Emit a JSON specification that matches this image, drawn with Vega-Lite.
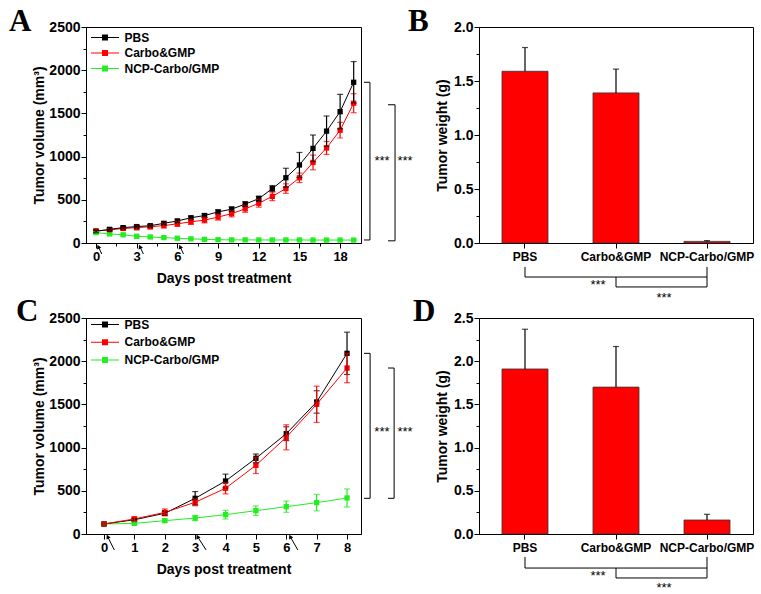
{
"$schema": "https://vega.github.io/schema/vega-lite/v6.json",
"background": "white",
"padding": {"left": 8, "top": 5, "right": 2, "bottom": 2},
"columns": 2,
"spacing": {"row": 75, "column": 118},
"bounds": "flush",
"resolve": {"scale": {"color": "independent"}, "legend": {"color": "independent"}},
"config": {
  "font": "Liberation Sans",
  "view": {"stroke": "black", "strokeWidth": 1},
  "axis": {"grid": false, "domainColor": "black", "tickColor": "black", "domainWidth": 1, "tickWidth": 1, "labelColor": "black", "titleColor": "black", "labelFont": "Liberation Sans", "titleFont": "Liberation Sans", "labelFontWeight": "bold", "titleFontWeight": "bold", "labelFontSize": 13, "titleFontSize": 14, "tickSize": 5, "labelPadding": 2, "labelOverlap": false},
  "title": {"anchor": "start", "frame": "group", "font": "Liberation Serif", "fontSize": 31, "fontWeight": "bold", "color": "black", "baseline": "alphabetic", "offset": -18}
},
"datasets": {
  "tvA": [
    {"day":0,"group":"NCP-Carbo/GMP","mean":120,"lo":110,"hi":130},
    {"day":1,"group":"NCP-Carbo/GMP","mean":105,"lo":95,"hi":115},
    {"day":2,"group":"NCP-Carbo/GMP","mean":95,"lo":87,"hi":103},
    {"day":3,"group":"NCP-Carbo/GMP","mean":78,"lo":70,"hi":86},
    {"day":4,"group":"NCP-Carbo/GMP","mean":70,"lo":64,"hi":76},
    {"day":5,"group":"NCP-Carbo/GMP","mean":62,"lo":56,"hi":68},
    {"day":6,"group":"NCP-Carbo/GMP","mean":55,"lo":50,"hi":60},
    {"day":7,"group":"NCP-Carbo/GMP","mean":48,"lo":43,"hi":53},
    {"day":8,"group":"NCP-Carbo/GMP","mean":42,"lo":37,"hi":47},
    {"day":9,"group":"NCP-Carbo/GMP","mean":38,"lo":33,"hi":43},
    {"day":10,"group":"NCP-Carbo/GMP","mean":36,"lo":31,"hi":41},
    {"day":11,"group":"NCP-Carbo/GMP","mean":36,"lo":31,"hi":41},
    {"day":12,"group":"NCP-Carbo/GMP","mean":35,"lo":30,"hi":40},
    {"day":13,"group":"NCP-Carbo/GMP","mean":35,"lo":30,"hi":40},
    {"day":14,"group":"NCP-Carbo/GMP","mean":35,"lo":30,"hi":40},
    {"day":15,"group":"NCP-Carbo/GMP","mean":35,"lo":30,"hi":40},
    {"day":16,"group":"NCP-Carbo/GMP","mean":34,"lo":29,"hi":39},
    {"day":17,"group":"NCP-Carbo/GMP","mean":34,"lo":29,"hi":39},
    {"day":18,"group":"NCP-Carbo/GMP","mean":34,"lo":29,"hi":39},
    {"day":19,"group":"NCP-Carbo/GMP","mean":34,"lo":29,"hi":39},
    {"day":0,"group":"Carbo&GMP","mean":140,"lo":125,"hi":155},
    {"day":1,"group":"Carbo&GMP","mean":152,"lo":137,"hi":167},
    {"day":2,"group":"Carbo&GMP","mean":168,"lo":148,"hi":188},
    {"day":3,"group":"Carbo&GMP","mean":178,"lo":153,"hi":203},
    {"day":4,"group":"Carbo&GMP","mean":188,"lo":163,"hi":213},
    {"day":5,"group":"Carbo&GMP","mean":202,"lo":174,"hi":230},
    {"day":6,"group":"Carbo&GMP","mean":222,"lo":192,"hi":252},
    {"day":7,"group":"Carbo&GMP","mean":245,"lo":215,"hi":275},
    {"day":8,"group":"Carbo&GMP","mean":265,"lo":233,"hi":297},
    {"day":9,"group":"Carbo&GMP","mean":300,"lo":265,"hi":335},
    {"day":10,"group":"Carbo&GMP","mean":340,"lo":302,"hi":378},
    {"day":11,"group":"Carbo&GMP","mean":395,"lo":355,"hi":435},
    {"day":12,"group":"Carbo&GMP","mean":460,"lo":415,"hi":505},
    {"day":13,"group":"Carbo&GMP","mean":540,"lo":490,"hi":590},
    {"day":14,"group":"Carbo&GMP","mean":630,"lo":575,"hi":685},
    {"day":15,"group":"Carbo&GMP","mean":755,"lo":700,"hi":810},
    {"day":16,"group":"Carbo&GMP","mean":932,"lo":847,"hi":1017},
    {"day":17,"group":"Carbo&GMP","mean":1100,"lo":1025,"hi":1175},
    {"day":18,"group":"Carbo&GMP","mean":1305,"lo":1215,"hi":1395},
    {"day":19,"group":"Carbo&GMP","mean":1618,"lo":1508,"hi":1728},
    {"day":0,"group":"PBS","mean":135,"lo":120,"hi":150},
    {"day":1,"group":"PBS","mean":158,"lo":143,"hi":173},
    {"day":2,"group":"PBS","mean":178,"lo":163,"hi":193},
    {"day":3,"group":"PBS","mean":190,"lo":175,"hi":205},
    {"day":4,"group":"PBS","mean":200,"lo":185,"hi":215},
    {"day":5,"group":"PBS","mean":228,"lo":210,"hi":246},
    {"day":6,"group":"PBS","mean":255,"lo":235,"hi":275},
    {"day":7,"group":"PBS","mean":292,"lo":274,"hi":310},
    {"day":8,"group":"PBS","mean":318,"lo":298,"hi":338},
    {"day":9,"group":"PBS","mean":360,"lo":338,"hi":382},
    {"day":10,"group":"PBS","mean":392,"lo":367,"hi":417},
    {"day":11,"group":"PBS","mean":450,"lo":422,"hi":478},
    {"day":12,"group":"PBS","mean":513,"lo":483,"hi":543},
    {"day":13,"group":"PBS","mean":630,"lo":595,"hi":665},
    {"day":14,"group":"PBS","mean":755,"lo":645,"hi":865},
    {"day":15,"group":"PBS","mean":903,"lo":758,"hi":1048},
    {"day":16,"group":"PBS","mean":1095,"lo":940,"hi":1250},
    {"day":17,"group":"PBS","mean":1295,"lo":1120,"hi":1470},
    {"day":18,"group":"PBS","mean":1520,"lo":1320,"hi":1720},
    {"day":19,"group":"PBS","mean":1860,"lo":1620,"hi":2100}
  ],
  "tvC": [
    {"day":0,"group":"NCP-Carbo/GMP","mean":116,"lo":106,"hi":126},
    {"day":1,"group":"NCP-Carbo/GMP","mean":123,"lo":108,"hi":138},
    {"day":2,"group":"NCP-Carbo/GMP","mean":154,"lo":134,"hi":174},
    {"day":3,"group":"NCP-Carbo/GMP","mean":185,"lo":155,"hi":215},
    {"day":4,"group":"NCP-Carbo/GMP","mean":224,"lo":174,"hi":274},
    {"day":5,"group":"NCP-Carbo/GMP","mean":270,"lo":215,"hi":325},
    {"day":6,"group":"NCP-Carbo/GMP","mean":316,"lo":251,"hi":381},
    {"day":7,"group":"NCP-Carbo/GMP","mean":363,"lo":268,"hi":458},
    {"day":8,"group":"NCP-Carbo/GMP","mean":417,"lo":312,"hi":522},
    {"day":0,"group":"PBS","mean":116,"lo":106,"hi":126},
    {"day":1,"group":"PBS","mean":165,"lo":150,"hi":180},
    {"day":2,"group":"PBS","mean":240,"lo":215,"hi":265},
    {"day":3,"group":"PBS","mean":413,"lo":335,"hi":491},
    {"day":4,"group":"PBS","mean":613,"lo":533,"hi":693},
    {"day":5,"group":"PBS","mean":876,"lo":826,"hi":926},
    {"day":6,"group":"PBS","mean":1161,"lo":1081,"hi":1241},
    {"day":7,"group":"PBS","mean":1528,"lo":1398,"hi":1658},
    {"day":8,"group":"PBS","mean":2091,"lo":1846,"hi":2336},
    {"day":0,"group":"Carbo&GMP","mean":116,"lo":106,"hi":126},
    {"day":1,"group":"Carbo&GMP","mean":174,"lo":149,"hi":199},
    {"day":2,"group":"Carbo&GMP","mean":250,"lo":210,"hi":290},
    {"day":3,"group":"Carbo&GMP","mean":367,"lo":327,"hi":407},
    {"day":4,"group":"Carbo&GMP","mean":529,"lo":464,"hi":594},
    {"day":5,"group":"Carbo&GMP","mean":795,"lo":700,"hi":890},
    {"day":6,"group":"Carbo&GMP","mean":1119,"lo":974,"hi":1264},
    {"day":7,"group":"Carbo&GMP","mean":1501,"lo":1291,"hi":1711},
    {"day":8,"group":"Carbo&GMP","mean":1921,"lo":1751,"hi":2091}
  ],
  "brA": [
    {"x":19.76,"x2":20.2,"y":1860,"y2":1860},
    {"x":20.2,"x2":20.2,"y":1860,"y2":35},
    {"x":20.2,"x2":19.76,"y":35,"y2":35},
    {"x":21.53,"x2":22.05,"y":1600,"y2":1600},
    {"x":22.05,"x2":22.05,"y":1600,"y2":25},
    {"x":22.05,"x2":21.53,"y":25,"y2":25}
  ],
  "stA": [{"x":21.09,"y":897,"t":"***"},{"x":22.79,"y":897,"t":"***"}],
  "arA": [
    {"x":0.17,"y":-43,"x2":0.42,"y2":-127},
    {"x":3.24,"y":-43,"x2":3.49,"y2":-127},
    {"x":6.2,"y":-43,"x2":6.45,"y2":-127}
  ],
  "brC": [
    {"x":8.56,"x2":8.76,"y":2091,"y2":2091},
    {"x":8.76,"x2":8.76,"y":2091,"y2":413},
    {"x":8.76,"x2":8.56,"y":413,"y2":413},
    {"x":9.35,"x2":9.55,"y":1921,"y2":1921},
    {"x":9.55,"x2":9.55,"y":1921,"y2":413},
    {"x":9.55,"x2":9.35,"y":413,"y2":413}
  ],
  "stC": [{"x":9.15,"y":1140,"t":"***"},{"x":9.91,"y":1140,"t":"***"}],
  "arC": [
    {"x":0.12,"y":-31,"x2":0.34,"y2":-185},
    {"x":3.08,"y":-31,"x2":3.36,"y2":-185},
    {"x":6.13,"y":-31,"x2":6.38,"y2":-185}
  ],
  "wB": [
    {"group":"PBS","mean":1.59,"hi":1.81},
    {"group":"Carbo&GMP","mean":1.39,"hi":1.61},
    {"group":"NCP-Carbo/GMP","mean":0.015,"hi":0.022}
  ],
  "brB": [
    {"x":"PBS","x2":"PBS","y":-0.222,"y2":-0.315},
    {"x":"PBS","x2":"NCP-Carbo/GMP","y":-0.315,"y2":-0.315},
    {"x":"NCP-Carbo/GMP","x2":"NCP-Carbo/GMP","y":-0.222,"y2":-0.407},
    {"x":"Carbo&GMP","x2":"NCP-Carbo/GMP","y":-0.407,"y2":-0.407},
    {"x":"Carbo&GMP","x2":"Carbo&GMP","y":-0.315,"y2":-0.407}
  ],
  "stB1": [{"x":"Carbo&GMP","y":-0.43,"t":"***"}],
  "stB2": [{"x":"Carbo&GMP","y":-0.542,"t":"***"}],
  "wD": [
    {"group":"PBS","mean":1.91,"hi":2.37},
    {"group":"Carbo&GMP","mean":1.70,"hi":2.17},
    {"group":"NCP-Carbo/GMP","mean":0.162,"hi":0.228}
  ],
  "brD": [
    {"x":"PBS","x2":"PBS","y":-0.266,"y2":-0.394},
    {"x":"PBS","x2":"NCP-Carbo/GMP","y":-0.394,"y2":-0.394},
    {"x":"NCP-Carbo/GMP","x2":"NCP-Carbo/GMP","y":-0.266,"y2":-0.509},
    {"x":"Carbo&GMP","x2":"NCP-Carbo/GMP","y":-0.509,"y2":-0.509},
    {"x":"Carbo&GMP","x2":"Carbo&GMP","y":-0.394,"y2":-0.509}
  ],
  "stD1": [{"x":"Carbo&GMP","y":-0.538,"t":"***"}],
  "stD2": [{"x":"Carbo&GMP","y":-0.666,"t":"***"}]
},
"concat": [
  {
    "width": 275, "height": 216,
    "title": {"text": "A", "dx": -77},
    "layer": [
      {"data": {"name": "tvA"}, "mark": {"type": "point", "shape": "square", "filled": true, "size": 28, "opacity": 1},
       "encoding": {
         "x": {"field": "day", "type": "quantitative", "title": "Days post treatment", "scale": {"domain": [-0.74, 19.54], "nice": false, "zero": false},
               "axis": {"values": [0,1.5,3,4.5,6,7.5,9,10.5,12,13.5,15,16.5,18], "tickCount": 100, "format": "d", "labelOverlap": false, "labelExpr": "datum.value % 3 == 0 ? datum.label : ''", "tickSize": {"condition": {"test": "datum.value % 3 != 0", "value": 3}, "value": 5}, "labelPadding": 2, "titlePadding": 8}},
         "y": {"field": "mean", "type": "quantitative", "title": "Tumor volume (mm³)", "scale": {"domain": [0, 2500], "nice": false},
               "axis": {"values": [0,250,500,750,1000,1250,1500,1750,2000,2250,2500], "tickCount": 100, "format": "d", "labelOverlap": false, "labelExpr": "datum.value % 500 == 0 ? datum.label : ''", "tickSize": {"condition": {"test": "datum.value % 500 != 0", "value": 3}, "value": 5}, "labelFontSize": 14, "labelPadding": 1, "titlePadding": 2}},
         "color": {"field": "group", "type": "nominal", "scale": {"domain": ["PBS", "Carbo&GMP", "NCP-Carbo/GMP"], "range": ["#000000", "#ff0000", "#22ee22"]},
                   "legend": {"orient": "none", "legendX": 5, "legendY": 3, "title": null, "symbolType": "M-1.87,-0.067H1.87V0.067H-1.87Z M-0.4,-0.4H0.4V0.4H-0.4Z", "symbolSize": 225, "symbolOffset": 6.5, "symbolStrokeWidth": 0, "labelOffset": 12, "labelFontSize": 12, "labelFont": "Liberation Sans", "labelFontWeight": "bold", "labelColor": "black", "rowPadding": 1.5, "padding": 0}}
       }},
      {"data": {"name": "tvA"}, "mark": {"type": "line", "strokeWidth": 1},
       "encoding": {
         "x": {"field": "day", "type": "quantitative", "title": "Days post treatment"},
         "y": {"field": "mean", "type": "quantitative", "title": "Tumor volume (mm³)"},
         "color": {"field": "group", "type": "nominal"}
       }},
      {"data": {"name": "tvA"}, "mark": {"type": "errorbar", "ticks": {"size": 6, "thickness": 1.2}, "rule": {"strokeWidth": 1.2}},
       "encoding": {
         "x": {"field": "day", "type": "quantitative", "title": "Days post treatment"},
         "y": {"field": "lo", "type": "quantitative", "title": "Tumor volume (mm³)"},
         "y2": {"field": "hi"},
         "color": {"field": "group", "type": "nominal"}
       }},
      {"data": {"name": "brA"}, "mark": {"type": "rule", "color": "black", "strokeWidth": 1},
       "encoding": {"x": {"field": "x", "type": "quantitative", "title": "Days post treatment"}, "x2": {"field": "x2"}, "y": {"field": "y", "type": "quantitative", "title": "Tumor volume (mm³)"}, "y2": {"field": "y2"}}},
      {"data": {"name": "stA"}, "mark": {"type": "text", "fontSize": 13, "font": "Liberation Sans", "color": "black", "baseline": "alphabetic"},
       "encoding": {"x": {"field": "x", "type": "quantitative", "title": "Days post treatment"}, "y": {"field": "y", "type": "quantitative", "title": "Tumor volume (mm³)"}, "text": {"field": "t"}}},
      {"data": {"name": "arA"}, "mark": {"type": "rule", "color": "black", "strokeWidth": 1},
       "encoding": {"x": {"field": "x", "type": "quantitative", "title": "Days post treatment"}, "x2": {"field": "x2"}, "y": {"field": "y", "type": "quantitative", "title": "Tumor volume (mm³)"}, "y2": {"field": "y2"}}},
      {"data": {"name": "arA"}, "mark": {"type": "point", "shape": "triangle-up", "filled": true, "color": "black", "size": 22, "angle": -22, "opacity": 1},
       "encoding": {"x": {"field": "x", "type": "quantitative", "title": "Days post treatment"}, "y": {"field": "y", "type": "quantitative", "title": "Tumor volume (mm³)"}}}
    ]
  },
  {
    "width": 274, "height": 216,
    "title": {"text": "B", "dx": -71},
    "layer": [
      {"data": {"name": "wB"}, "mark": {"type": "bar", "color": "#ff0000", "stroke": "#333333", "strokeWidth": 0.8},
       "encoding": {
         "x": {"field": "group", "type": "nominal", "sort": null, "title": null, "scale": {"domain": ["PBS", "Carbo&GMP", "NCP-Carbo/GMP"], "paddingInner": 0.4945, "paddingOuter": 0.2527},
               "axis": {"labelAngle": 0, "labelFontSize": 12, "labelPadding": 3, "labelOverlap": false}},
         "y": {"field": "mean", "type": "quantitative", "title": "Tumor weight (g)", "scale": {"domain": [0, 2], "nice": false},
               "axis": {"values": [0,0.25,0.5,0.75,1,1.25,1.5,1.75,2], "tickCount": 100, "labelOverlap": false, "labelExpr": "datum.value % 0.5 == 0 ? format(datum.value, '.1f') : ''", "tickSize": {"condition": {"test": "datum.value % 0.5 != 0", "value": 3}, "value": 5}, "labelFontSize": 14, "labelPadding": 1, "titlePadding": 4}}
       }},
      {"data": {"name": "wB"}, "mark": {"type": "rule", "color": "black", "strokeWidth": 1.2},
       "encoding": {"x": {"field": "group", "type": "nominal", "sort": null, "title": null}, "y": {"field": "mean", "type": "quantitative", "title": "Tumor weight (g)"}, "y2": {"field": "hi"}}},
      {"data": {"name": "wB"}, "mark": {"type": "tick", "color": "black", "thickness": 1.2, "size": 6, "orient": "horizontal"},
       "encoding": {"x": {"field": "group", "type": "nominal", "sort": null, "title": null}, "y": {"field": "hi", "type": "quantitative", "title": "Tumor weight (g)"}}},
      {"data": {"name": "brB"}, "mark": {"type": "rule", "color": "black", "strokeWidth": 1},
       "encoding": {"x": {"field": "x", "type": "nominal", "title": null}, "x2": {"field": "x2"}, "y": {"field": "y", "type": "quantitative", "title": "Tumor weight (g)"}, "y2": {"field": "y2"}}},
      {"data": {"name": "stB1"}, "mark": {"type": "text", "fontSize": 13, "color": "black", "baseline": "alphabetic", "dx": -18},
       "encoding": {"x": {"field": "x", "type": "nominal", "title": null}, "y": {"field": "y", "type": "quantitative", "title": "Tumor weight (g)"}, "text": {"field": "t"}}},
      {"data": {"name": "stB2"}, "mark": {"type": "text", "fontSize": 13, "color": "black", "baseline": "alphabetic", "dx": 48},
       "encoding": {"x": {"field": "x", "type": "nominal", "title": null}, "y": {"field": "y", "type": "quantitative", "title": "Tumor weight (g)"}, "text": {"field": "t"}}}
    ]
  },
  {
    "width": 275, "height": 216,
    "title": {"text": "C", "dx": -70, "offset": -17},
    "layer": [
      {"data": {"name": "tvC"}, "mark": {"type": "point", "shape": "square", "filled": true, "size": 28, "opacity": 1},
       "encoding": {
         "x": {"field": "day", "type": "quantitative", "title": "Days post treatment", "scale": {"domain": [-0.593, 8.46], "nice": false, "zero": false},
               "axis": {"values": [0,1,2,3,4,5,6,7,8], "tickCount": 100, "format": "d", "labelOverlap": false, "labelPadding": 2, "titlePadding": 8}},
         "y": {"field": "mean", "type": "quantitative", "title": "Tumor volume (mm³)", "scale": {"domain": [0, 2500], "nice": false},
               "axis": {"values": [0,250,500,750,1000,1250,1500,1750,2000,2250,2500], "tickCount": 100, "format": "d", "labelOverlap": false, "labelExpr": "datum.value % 500 == 0 ? datum.label : ''", "tickSize": {"condition": {"test": "datum.value % 500 != 0", "value": 3}, "value": 5}, "labelFontSize": 14, "labelPadding": 1, "titlePadding": 2}},
         "color": {"field": "group", "type": "nominal", "scale": {"domain": ["PBS", "Carbo&GMP", "NCP-Carbo/GMP"], "range": ["#000000", "#ff0000", "#22ee22"]},
                   "legend": {"orient": "none", "legendX": 5, "legendY": -1, "title": null, "symbolType": "M-1.87,-0.067H1.87V0.067H-1.87Z M-0.4,-0.4H0.4V0.4H-0.4Z", "symbolSize": 225, "symbolOffset": 6.5, "symbolStrokeWidth": 0, "labelOffset": 12, "labelFontSize": 12, "labelFont": "Liberation Sans", "labelFontWeight": "bold", "labelColor": "black", "rowPadding": 3.8, "padding": 0}}
       }},
      {"data": {"name": "tvC"}, "mark": {"type": "line", "strokeWidth": 1},
       "encoding": {
         "x": {"field": "day", "type": "quantitative", "title": "Days post treatment"},
         "y": {"field": "mean", "type": "quantitative", "title": "Tumor volume (mm³)"},
         "color": {"field": "group", "type": "nominal"}
       }},
      {"data": {"name": "tvC"}, "mark": {"type": "errorbar", "ticks": {"size": 6, "thickness": 1.2}, "rule": {"strokeWidth": 1.2}},
       "encoding": {
         "x": {"field": "day", "type": "quantitative", "title": "Days post treatment"},
         "y": {"field": "lo", "type": "quantitative", "title": "Tumor volume (mm³)"},
         "y2": {"field": "hi"},
         "color": {"field": "group", "type": "nominal"}
       }},
      {"data": {"name": "brC"}, "mark": {"type": "rule", "color": "black", "strokeWidth": 1},
       "encoding": {"x": {"field": "x", "type": "quantitative", "title": "Days post treatment"}, "x2": {"field": "x2"}, "y": {"field": "y", "type": "quantitative", "title": "Tumor volume (mm³)"}, "y2": {"field": "y2"}}},
      {"data": {"name": "stC"}, "mark": {"type": "text", "fontSize": 13, "font": "Liberation Sans", "color": "black", "baseline": "alphabetic"},
       "encoding": {"x": {"field": "x", "type": "quantitative", "title": "Days post treatment"}, "y": {"field": "y", "type": "quantitative", "title": "Tumor volume (mm³)"}, "text": {"field": "t"}}},
      {"data": {"name": "arC"}, "mark": {"type": "rule", "color": "black", "strokeWidth": 1},
       "encoding": {"x": {"field": "x", "type": "quantitative", "title": "Days post treatment"}, "x2": {"field": "x2"}, "y": {"field": "y", "type": "quantitative", "title": "Tumor volume (mm³)"}, "y2": {"field": "y2"}}},
      {"data": {"name": "arC"}, "mark": {"type": "point", "shape": "triangle-up", "filled": true, "color": "black", "size": 22, "angle": -26, "opacity": 1},
       "encoding": {"x": {"field": "x", "type": "quantitative", "title": "Days post treatment"}, "y": {"field": "y", "type": "quantitative", "title": "Tumor volume (mm³)"}}}
    ]
  },
  {
    "width": 274, "height": 216,
    "title": {"text": "D", "dx": -66, "offset": -17},
    "layer": [
      {"data": {"name": "wD"}, "mark": {"type": "bar", "color": "#ff0000", "stroke": "#333333", "strokeWidth": 0.8},
       "encoding": {
         "x": {"field": "group", "type": "nominal", "sort": null, "title": null, "scale": {"domain": ["PBS", "Carbo&GMP", "NCP-Carbo/GMP"], "paddingInner": 0.4945, "paddingOuter": 0.2527},
               "axis": {"labelAngle": 0, "labelFontSize": 12, "labelPadding": 3, "labelOverlap": false}},
         "y": {"field": "mean", "type": "quantitative", "title": "Tumor weight (g)", "scale": {"domain": [0, 2.5], "nice": false},
               "axis": {"values": [0,0.25,0.5,0.75,1,1.25,1.5,1.75,2,2.25,2.5], "tickCount": 100, "labelOverlap": false, "labelExpr": "datum.value % 0.5 == 0 ? format(datum.value, '.1f') : ''", "tickSize": {"condition": {"test": "datum.value % 0.5 != 0", "value": 3}, "value": 5}, "labelFontSize": 14, "labelPadding": 1, "titlePadding": 4}}
       }},
      {"data": {"name": "wD"}, "mark": {"type": "rule", "color": "black", "strokeWidth": 1.2},
       "encoding": {"x": {"field": "group", "type": "nominal", "sort": null, "title": null}, "y": {"field": "mean", "type": "quantitative", "title": "Tumor weight (g)"}, "y2": {"field": "hi"}}},
      {"data": {"name": "wD"}, "mark": {"type": "tick", "color": "black", "thickness": 1.2, "size": 6, "orient": "horizontal"},
       "encoding": {"x": {"field": "group", "type": "nominal", "sort": null, "title": null}, "y": {"field": "hi", "type": "quantitative", "title": "Tumor weight (g)"}}},
      {"data": {"name": "brD"}, "mark": {"type": "rule", "color": "black", "strokeWidth": 1},
       "encoding": {"x": {"field": "x", "type": "nominal", "title": null}, "x2": {"field": "x2"}, "y": {"field": "y", "type": "quantitative", "title": "Tumor weight (g)"}, "y2": {"field": "y2"}}},
      {"data": {"name": "stD1"}, "mark": {"type": "text", "fontSize": 13, "color": "black", "baseline": "alphabetic", "dx": -18},
       "encoding": {"x": {"field": "x", "type": "nominal", "title": null}, "y": {"field": "y", "type": "quantitative", "title": "Tumor weight (g)"}, "text": {"field": "t"}}},
      {"data": {"name": "stD2"}, "mark": {"type": "text", "fontSize": 13, "color": "black", "baseline": "alphabetic", "dx": 48},
       "encoding": {"x": {"field": "x", "type": "nominal", "title": null}, "y": {"field": "y", "type": "quantitative", "title": "Tumor weight (g)"}, "text": {"field": "t"}}}
    ]
  }
]
}
